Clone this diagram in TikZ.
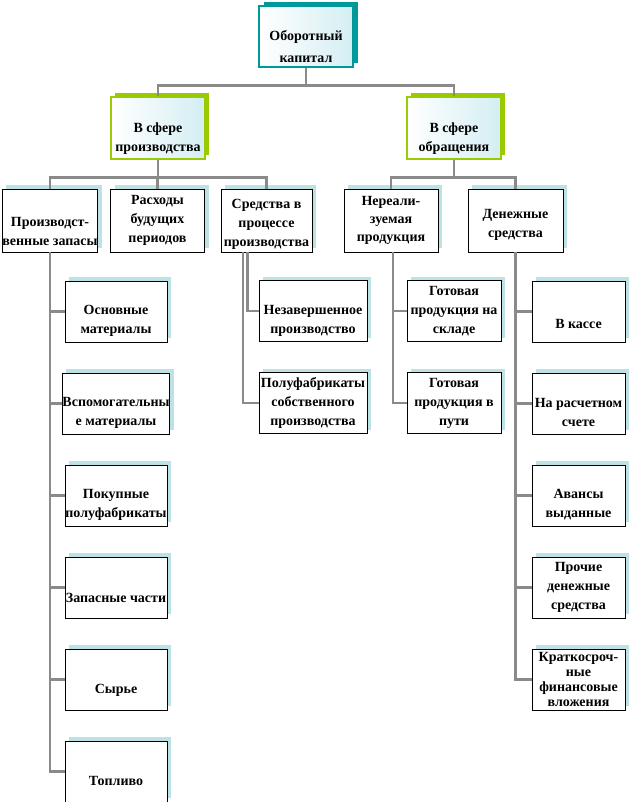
\documentclass[tikz,border=0pt]{standalone}
\usepackage{fontspec}
\setmainfont{Liberation Serif}
\usetikzlibrary{positioning,shadows}
\definecolor{capteal}{HTML}{009999}
\definecolor{sphgreen}{HTML}{99CC00}
\definecolor{boxtint}{HTML}{D4EEF3}
\definecolor{shadowcyan}{HTML}{BDE2E6}
\definecolor{linegray}{HTML}{8A8A8A}
\newcommand\boxfont{\bfseries\fontsize{14}{19}\selectfont}
% invisible strut that pushes short labels down in their box
\newcommand\lowpad[1]{\rule{0pt}{#1}}
\tikzset{
  capbox/.style={rectangle, draw=capteal, line width=1.4pt, left color=white, right color=boxtint, minimum width=94pt, minimum height=61pt, align=center, inner sep=0pt, font=\bfseries\fontsize{14}{22}\selectfont, drop shadow={shadow xshift=5pt, shadow yshift=4pt, fill=capteal, opacity=1}},
  spherebox/.style={rectangle, draw=sphgreen, line width=1.4pt, left color=white, right color=boxtint, minimum width=94pt, minimum height=62pt, align=center, inner sep=0pt, font=\boxfont, drop shadow={shadow xshift=4pt, shadow yshift=4pt, fill=sphgreen, opacity=1}},
  groupbox/.style={rectangle, draw=black, line width=0.6pt, fill=white, minimum width=94pt, minimum height=63pt, align=center, inner sep=0pt, font=\boxfont, drop shadow={shadow xshift=4pt, shadow yshift=4pt, fill=shadowcyan, opacity=1}},
  leafbox/.style={groupbox, minimum height=61pt},
  conn/.style={draw=linegray, line width=2.6pt},
}
\begin{document}
\begin{tikzpicture}[x=1pt, y=-1pt, node distance=30.4pt]
  \useasboundingbox (0,0) rectangle (632,802);
  % top levels
  \node[capbox] (kap) at (306,36.5) {\lowpad{30pt}Оборотный\\капитал};
  \node[spherebox] (prod) at (158,128) {\lowpad{30pt}В сфере\\производства};
  \node[spherebox] (obr) at (454,128) {\lowpad{30pt}В сфере\\обращения};
  % groups
  \node[groupbox] (zap) at (50,220.5) {\lowpad{32pt}Производст-\\венные запасы};
  \node[groupbox] (rash) at (157.5,220.5) {Расходы\\будущих\\периодов};
  \node[groupbox, minimum width=91pt] (sred) at (266.5,220.5) {\lowpad{16pt}Средства в\\процессе\\производства};
  \node[groupbox, font=\bfseries\fontsize{14}{18}\selectfont] (nereal) at (391,220.5) {Нереали-\\зуемая\\продукция};
  \node[groupbox, minimum width=95pt] (den) at (515.5,220.5) {\lowpad{18pt}Денежные\\средства};
  % stocks
  \node[leafbox, minimum width=102pt] (osn) at (116,311.5) {\lowpad{28pt}Основные\\материалы};
  \node[leafbox, minimum width=102pt, below=of osn] (vsp) {\lowpad{28pt}Вспомогательны\\е материалы};
  \node[leafbox, minimum width=102pt, below=of vsp] (pok) {\lowpad{28pt}Покупные\\полуфабрикаты};
  \node[leafbox, minimum width=102pt, below=of pok] (zch) {\lowpad{30pt}Запасные~части};
  \node[leafbox, minimum width=102pt, below=of zch] (syr) {\lowpad{30pt}Сырье};
  \node[leafbox, minimum width=102pt, below=of syr] (topl) {\lowpad{28pt}Топливо};
  % work in progress
  \node[leafbox, minimum width=108pt] (nezav) at (313,311) {\lowpad{28pt}Незавершенное\\производство};
  \node[leafbox, minimum width=108pt, below=of nezav] (pfsob) {Полуфабрикаты\\собственного\\производства};
  % products
  \node[leafbox] (gsk) at (454,311) {Готовая\\продукция на\\складе};
  \node[leafbox, below=of gsk] (gput) {Готовая\\продукция в\\пути};
  % cash
  \node[leafbox, minimum width=93pt] (kassa) at (578.5,311.5) {\lowpad{34pt}В кассе};
  \node[leafbox, minimum width=93pt, below=of kassa] (rasch) {\lowpad{28pt}На расчетном\\счете};
  \node[leafbox, minimum width=93pt, below=of rasch] (avans) {\lowpad{28pt}Авансы\\выданные};
  \node[leafbox, minimum width=93pt, below=of avans] (proch) {Прочие\\денежные\\средства};
  \node[leafbox, minimum width=93pt, below=of proch, font=\bfseries\fontsize{14}{15}\selectfont] (kratk) {Краткосроч-\\ные\\финансовые\\вложения};
  % connectors
  \draw[conn] (kap.south) -- ++(0,18) -| (prod.north);
  \draw[conn] (kap.south) -- ++(0,18) -| (obr.north);
  \foreach \g in {zap,rash,sred}
    \draw[conn] (prod.south) -- ++(0,18) -| (\g.north);
  \foreach \g in {nereal,den}
    \draw[conn] (obr.south) -- ++(0,18) -| (\g.north);
  \foreach \c in {osn,vsp,pok,zch,syr,topl}
    \draw[conn] (zap.south) |- (\c.west);
  \draw[conn] ([xshift=-19pt]sred.south) |- (nezav.west);
  \draw[conn] ([xshift=-23.5pt]sred.south) |- (pfsob.west);
  \foreach \c in {gsk,gput}
    \draw[conn] ([xshift=2pt]nereal.south) |- (\c.west);
  \foreach \c in {kassa,rasch,avans,proch,kratk}
    \draw[conn] (den.south) |- (\c.west);
\end{tikzpicture}
\end{document}
